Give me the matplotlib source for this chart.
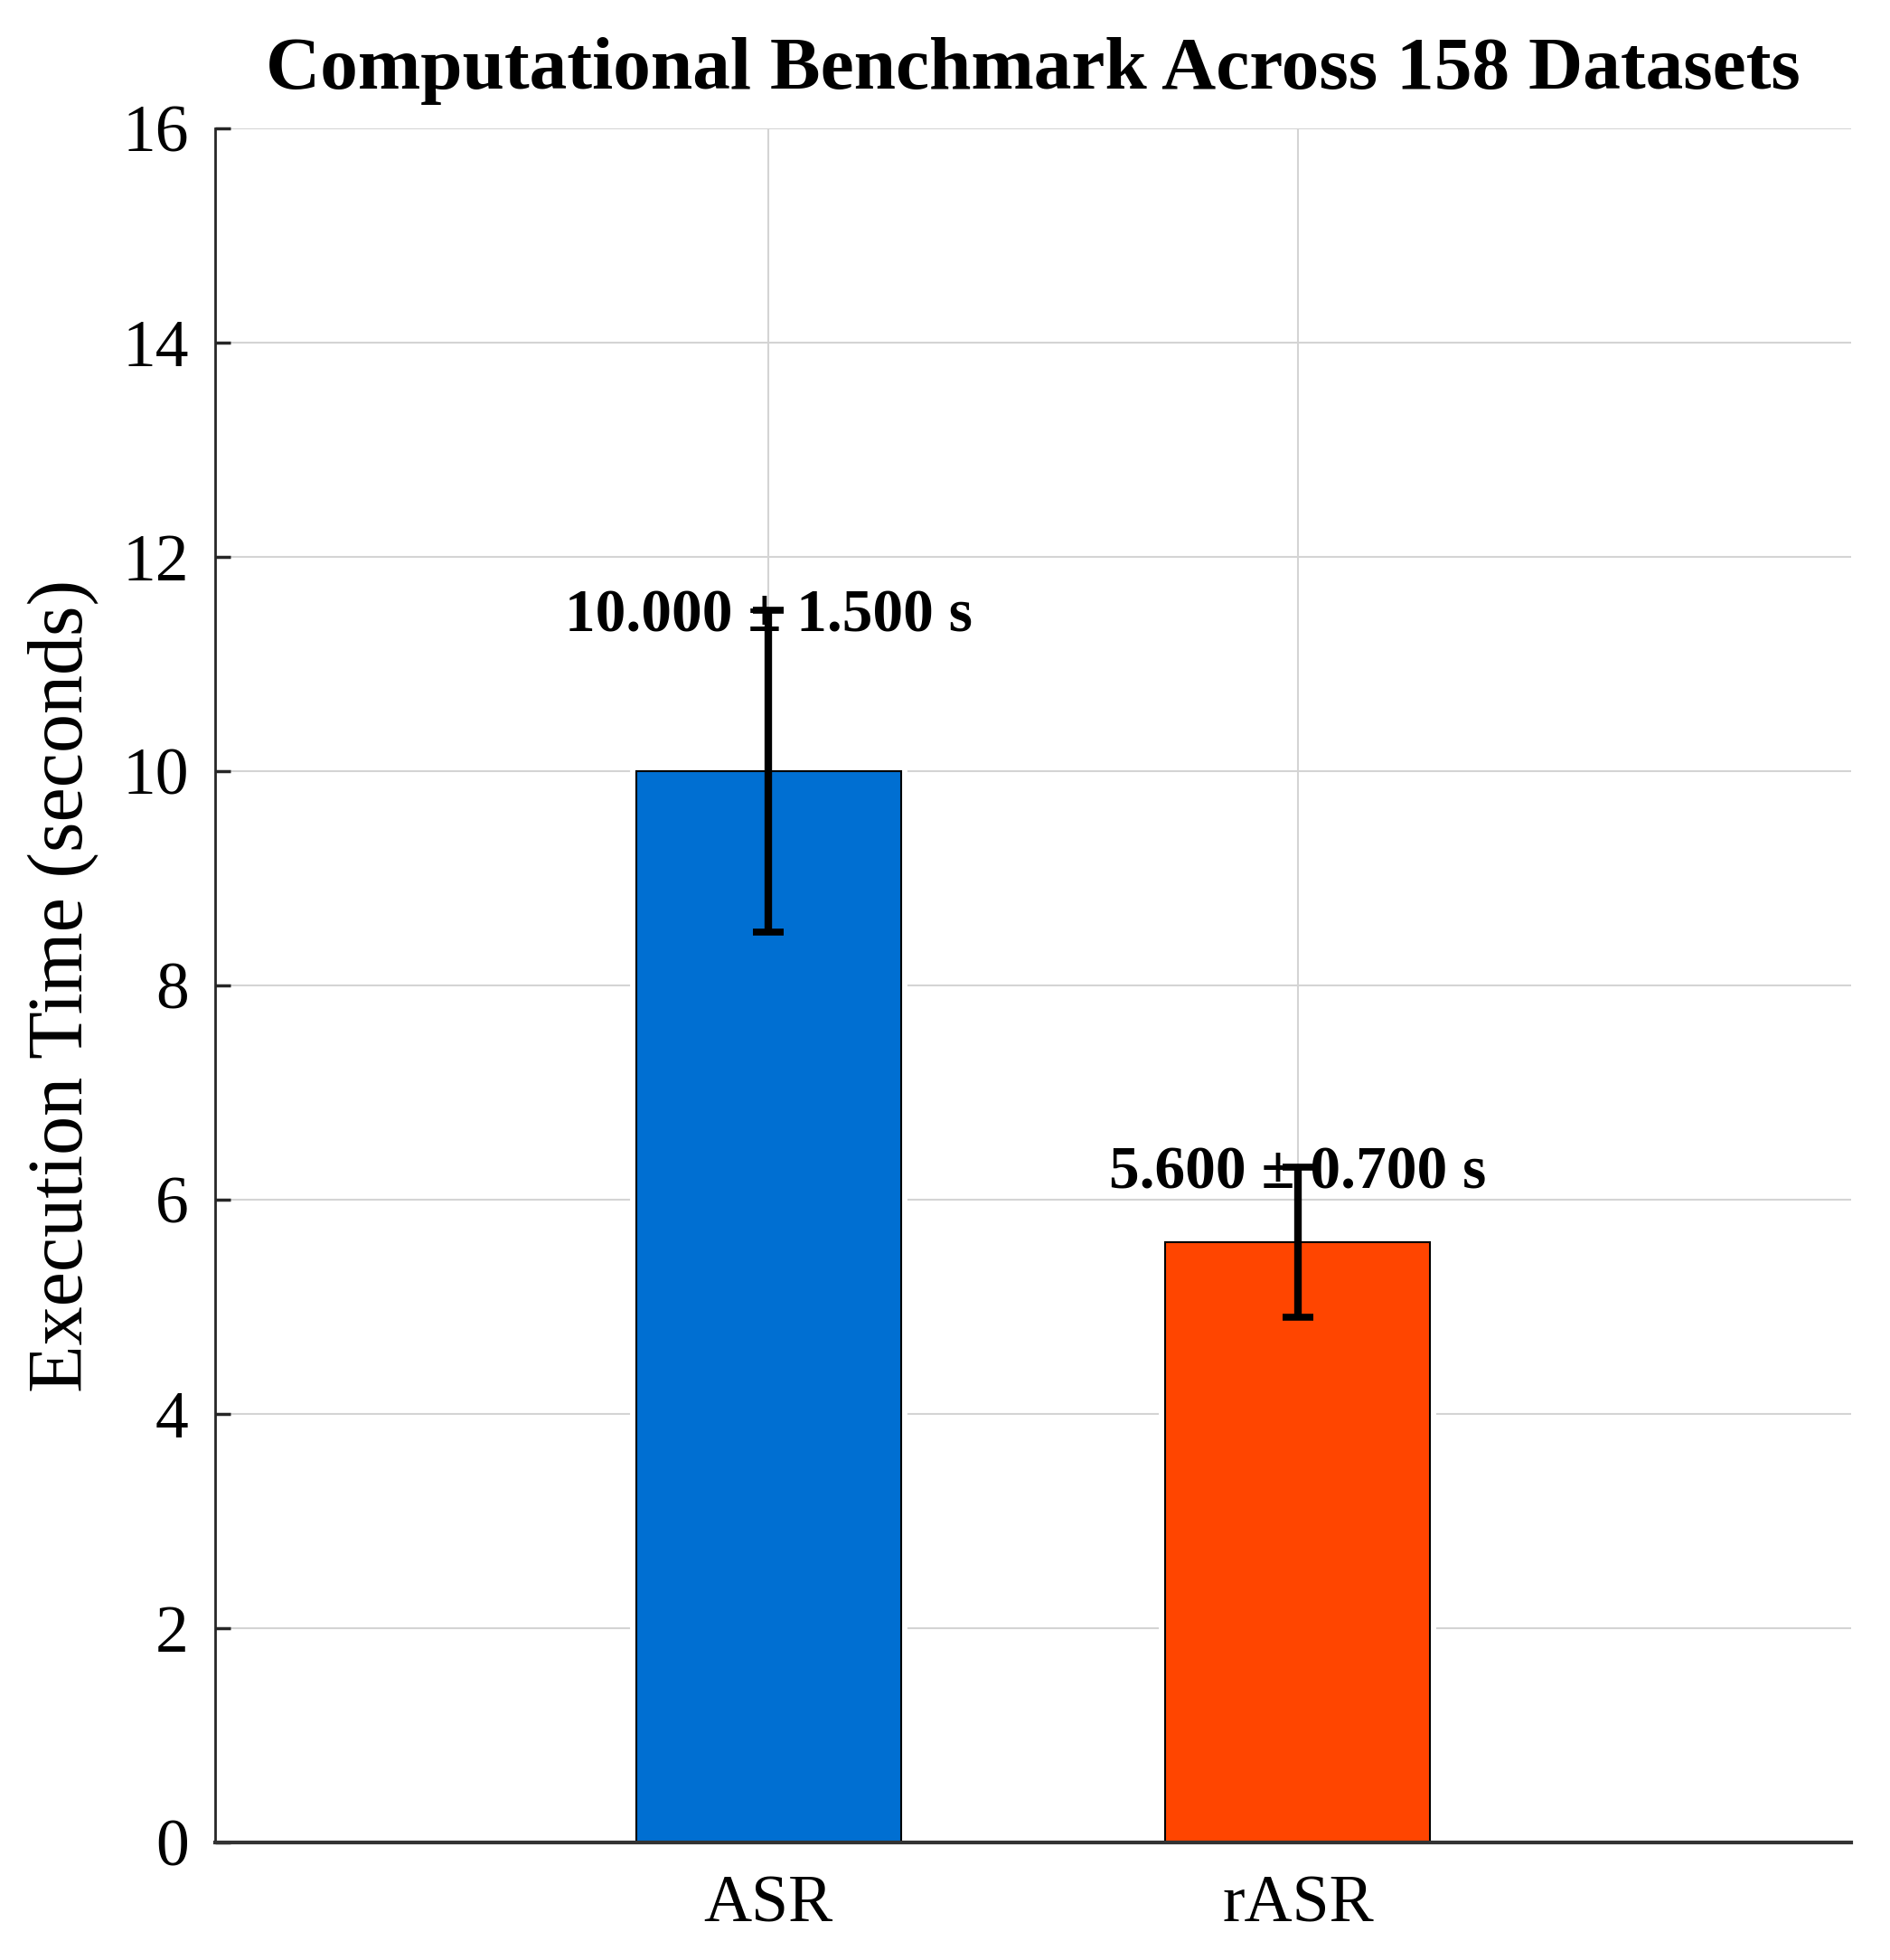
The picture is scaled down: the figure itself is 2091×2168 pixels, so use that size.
import matplotlib
matplotlib.use("Agg")
import matplotlib.pyplot as plt
import numpy as np

plt.rcParams['font.family'] = ['Liberation Serif', 'DejaVu Serif']

methods = ['ASR', 'rASR']
mean_times = [10.0, 5.6]
std_times = [1.5, 0.7]
bar_colors = ['#006FD2', '#FF4500']
title = 'Computational Benchmark Across 158 Datasets'
ylabel = 'Execution Time (seconds)'
yticks = [0, 2, 4, 6, 8, 10, 12, 14, 16]

fig = plt.figure(figsize=(20.91, 21.68), dpi=100)
ax = fig.add_axes([0.1138, 0.0600, 0.8656, 0.8745])

x = np.arange(1, len(methods) + 1)

# white halo behind the bars, then the bars themselves
ax.bar(x, mean_times, width=0.5, color='white', edgecolor='white',
       linewidth=10, zorder=1.9)
ax.bar(x, mean_times, width=0.5, color=bar_colors, edgecolor='black',
       linewidth=1.5, zorder=2)
ax.errorbar(x, mean_times, yerr=std_times, fmt='none', ecolor='black',
            elinewidth=6, capsize=12, capthick=5.5, zorder=4)

for xi, m, s in zip(x, mean_times, std_times):
    ax.annotate('{:.3f} \u00b1 {:.3f} s'.format(m, s), xy=(xi, m + s),
                xytext=(0, -5), textcoords='offset points',
                ha='center', va='center', fontsize=48.5, fontweight='bold',
                zorder=3)

ax.set_xlim(-0.045, 3.045)
ax.set_ylim(0, 16)
ax.set_xticks(x)
ax.set_xticklabels(methods)
ax.set_yticks(yticks)

ax.set_axisbelow(True)
ax.grid(True, color='#d4d4d4', linewidth=1.5)

for side in ['top', 'right']:
    ax.spines[side].set_visible(False)
ax.spines['left'].set_color('#262626')
ax.spines['left'].set_linewidth(2)
ax.spines['bottom'].set_color('#333333')
ax.spines['bottom'].set_linewidth(3)

ax.tick_params(axis='y', direction='in', length=12, width=2.5,
               pad=21, labelsize=53, colors='#262626', labelcolor='black')
ax.tick_params(axis='x', length=0, pad=26, labelsize=53)

ax.set_ylabel(ylabel, fontsize=62, va='center')
ax.yaxis.set_label_coords(-0.0928, 0.5)
ax.set_title(title, fontsize=60, fontweight='bold', pad=32)

fig.savefig('out.png', dpi=100)
